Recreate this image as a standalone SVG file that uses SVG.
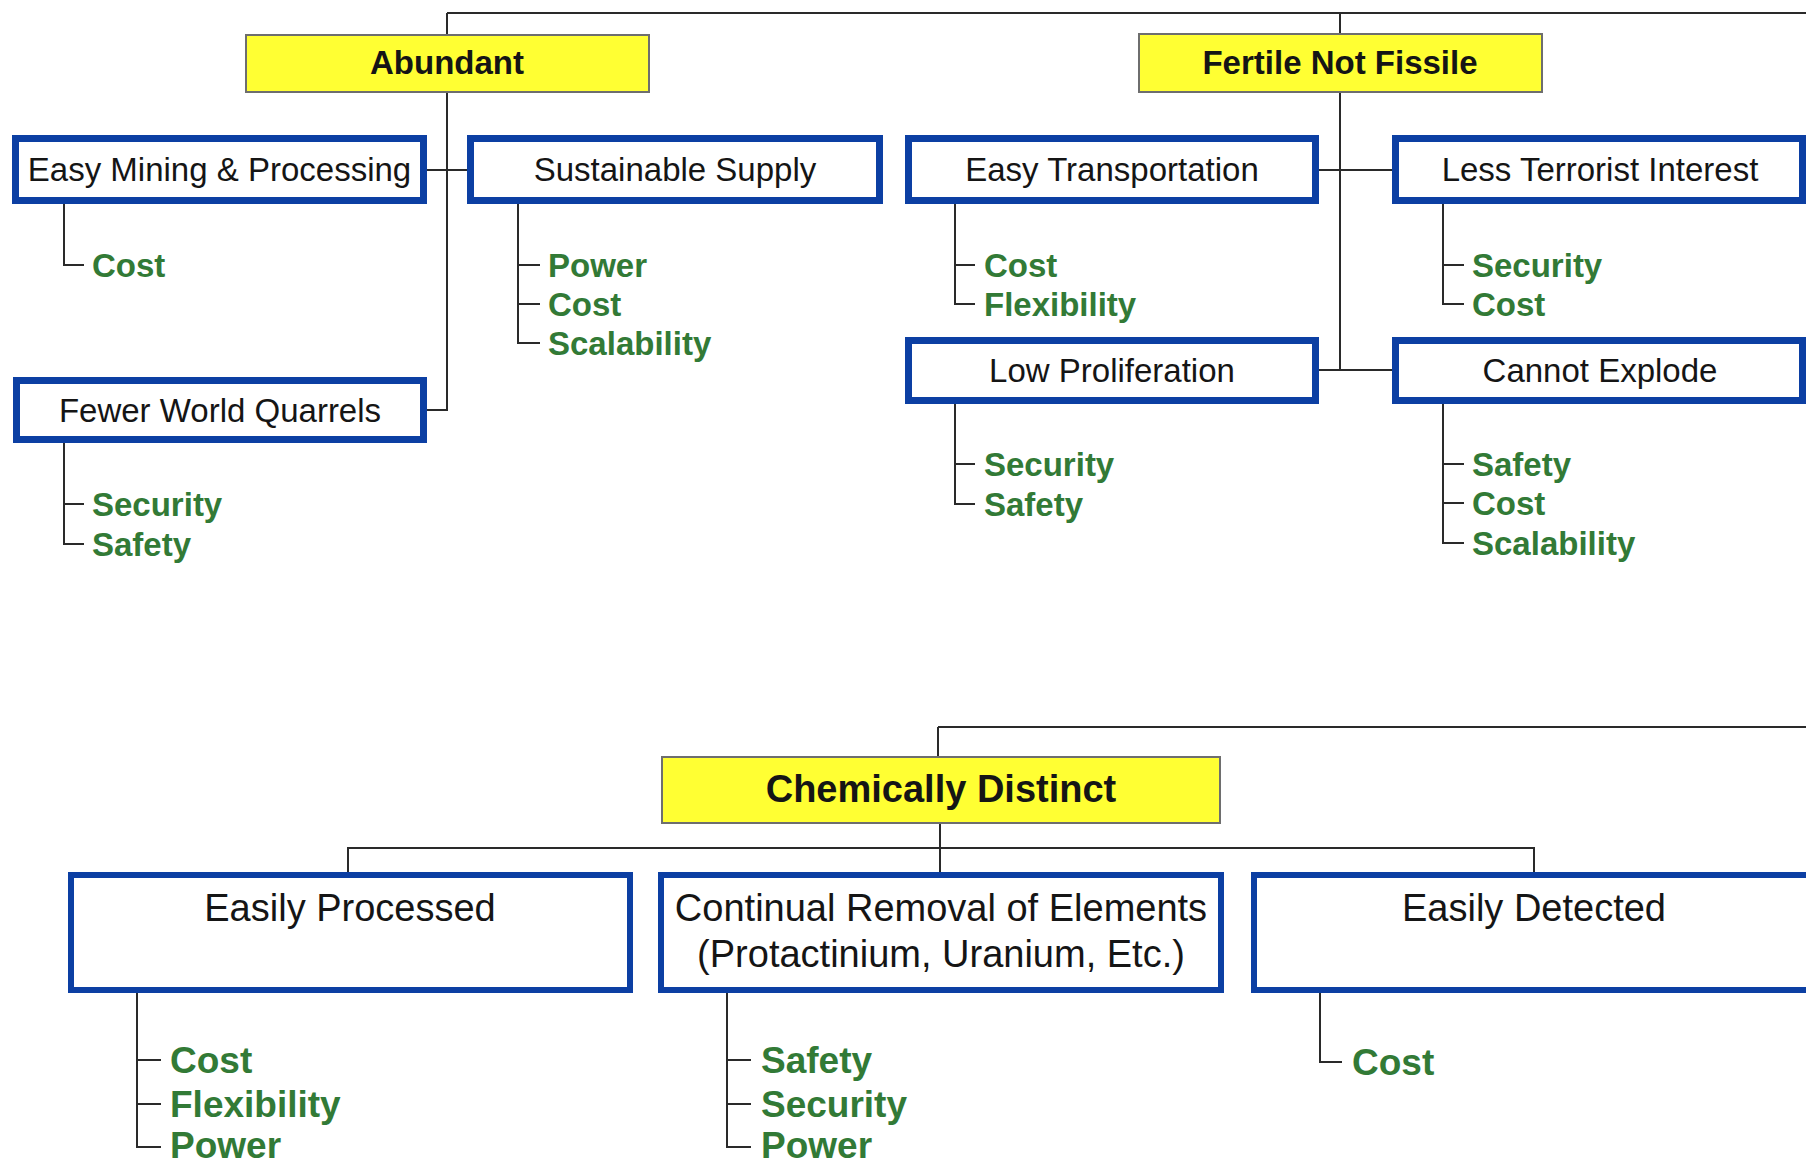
<svg xmlns="http://www.w3.org/2000/svg" width="1806" height="1167" viewBox="0 0 1806 1167">
<style>
.hdr{fill:#ffff33;stroke:#6e6e6e;stroke-width:2}
.hdrt{font-family:"Liberation Sans",Arial,sans-serif;font-weight:bold;fill:#151515;text-anchor:middle}
.box{fill:#ffffff;stroke:#0c3fa3;stroke-width:7}
.box2{fill:#ffffff;stroke:#0c3fa3;stroke-width:6}
.bt{font-family:"Liberation Sans",Arial,sans-serif;fill:#151515;text-anchor:middle}
.it{font-family:"Liberation Sans",Arial,sans-serif;font-weight:bold;fill:#327a36}
.ln{fill:none;stroke:#2a2a2a;stroke-width:2}
</style>
<rect width="1806" height="1167" fill="#ffffff"/>
<g id="connectors">
<path class="ln" d="M447 13 H1806 M447 13 V35 M1340 13 V34"/>
<path class="ln" d="M447 92 V410 H427 M427 170 H467"/>
<path class="ln" d="M1340 92 V370 M1319 170 H1392 M1319 370 H1392"/>
<path class="ln" d="M938 727 H1806 M938 727 V757 M940 823 V872 M348 872 V848 H1534 V872"/>
<path class="ln" d="M64 204 V265 H84"/>
<path class="ln" d="M518 204 V343 H540 M518 265 H540 M518 304 H540"/>
<path class="ln" d="M64 443 V544 H84 M64 504 H84"/>
<path class="ln" d="M955 204 V304 H975 M955 265 H975"/>
<path class="ln" d="M1443 204 V304 H1464 M1443 265 H1464"/>
<path class="ln" d="M955 404 V504 H975 M955 464 H975"/>
<path class="ln" d="M1443 404 V543 H1464 M1443 464 H1464 M1443 503 H1464"/>
<path class="ln" d="M137 993 V1147 H161 M137 1060 H161 M137 1104 H161"/>
<path class="ln" d="M727 993 V1147 H751 M727 1060 H751 M727 1104 H751"/>
<path class="ln" d="M1320 993 V1062 H1342"/>
</g>
<g id="abundant">
<rect class="hdr" x="246" y="35" width="403" height="57"/>
<text class="hdrt" x="447" y="74" font-size="33">Abundant</text>
</g>
<g id="fertile">
<rect class="hdr" x="1139" y="34" width="403" height="58"/>
<text class="hdrt" x="1340" y="74" font-size="33">Fertile Not Fissile</text>
</g>
<g id="chemically">
<rect class="hdr" x="662" y="757" width="558" height="66"/>
<text class="hdrt" x="941" y="802" font-size="38">Chemically Distinct</text>
</g>
<g id="easy-mining">
<rect class="box" x="15.5" y="138.5" width="408" height="62"/>
<text class="bt" x="219.5" y="181" font-size="33">Easy Mining &amp; Processing</text>
<text class="it" x="92" y="277" font-size="33">Cost</text>
</g>
<g id="sustainable">
<rect class="box" x="470.5" y="138.5" width="409" height="62"/>
<text class="bt" x="675" y="181" font-size="33">Sustainable Supply</text>
<text class="it" x="548" y="277" font-size="33">Power</text>
<text class="it" x="548" y="316" font-size="33">Cost</text>
<text class="it" x="548" y="355" font-size="33">Scalability</text>
</g>
<g id="fewer">
<rect class="box" x="16.5" y="380.5" width="407" height="59"/>
<text class="bt" x="220" y="422" font-size="33">Fewer World Quarrels</text>
<text class="it" x="92" y="516" font-size="33">Security</text>
<text class="it" x="92" y="556" font-size="33">Safety</text>
</g>
<g id="easy-transport">
<rect class="box" x="908.5" y="138.5" width="407" height="62"/>
<text class="bt" x="1112" y="181" font-size="33">Easy Transportation</text>
<text class="it" x="984" y="277" font-size="33">Cost</text>
<text class="it" x="984" y="316" font-size="33">Flexibility</text>
</g>
<g id="less-terrorist">
<rect class="box" x="1395.5" y="138.5" width="407" height="62"/>
<text class="bt" x="1600" y="181" font-size="33">Less Terrorist Interest</text>
<text class="it" x="1472" y="277" font-size="33">Security</text>
<text class="it" x="1472" y="316" font-size="33">Cost</text>
</g>
<g id="low-proliferation">
<rect class="box" x="908.5" y="340.5" width="407" height="60"/>
<text class="bt" x="1112" y="382" font-size="33">Low Proliferation</text>
<text class="it" x="984" y="476" font-size="33">Security</text>
<text class="it" x="984" y="516" font-size="33">Safety</text>
</g>
<g id="cannot-explode">
<rect class="box" x="1395.5" y="340.5" width="407" height="60"/>
<text class="bt" x="1600" y="382" font-size="33">Cannot Explode</text>
<text class="it" x="1472" y="476" font-size="33">Safety</text>
<text class="it" x="1472" y="515" font-size="33">Cost</text>
<text class="it" x="1472" y="555" font-size="33">Scalability</text>
</g>
<g id="easily-processed">
<rect class="box2" x="71" y="875" width="559" height="115"/>
<text class="bt" x="350" y="921" font-size="38">Easily Processed</text>
<text class="it" x="170" y="1073" font-size="37">Cost</text>
<text class="it" x="170" y="1117" font-size="37">Flexibility</text>
<text class="it" x="170" y="1158" font-size="37">Power</text>
</g>
<g id="continual-removal">
<rect class="box2" x="661" y="875" width="560" height="115"/>
<text class="bt" x="941" y="921" font-size="38">Continual Removal of Elements</text>
<text class="bt" x="941" y="967" font-size="38">(Protactinium, Uranium, Etc.)</text>
<text class="it" x="761" y="1073" font-size="37">Safety</text>
<text class="it" x="761" y="1117" font-size="37">Security</text>
<text class="it" x="761" y="1158" font-size="37">Power</text>
</g>
<g id="easily-detected">
<rect class="box2" x="1254" y="875" width="560" height="115"/>
<text class="bt" x="1534" y="921" font-size="38">Easily Detected</text>
<text class="it" x="1352" y="1075" font-size="37">Cost</text>
</g>
</svg>
